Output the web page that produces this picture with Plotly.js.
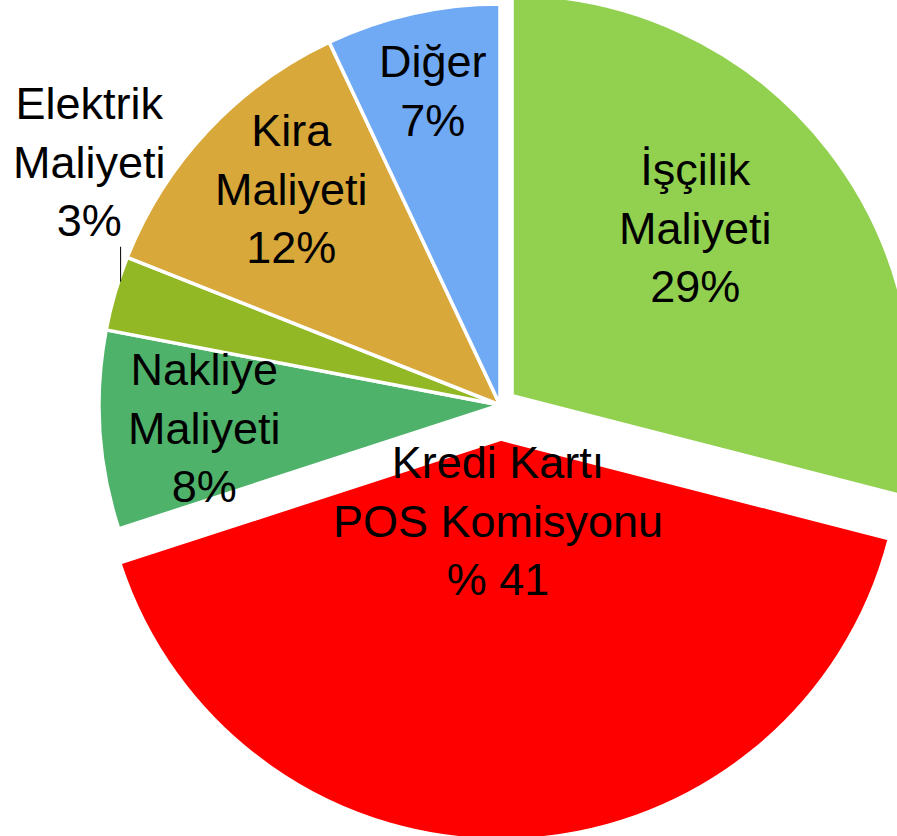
<!DOCTYPE html>
<html><head><meta charset="utf-8">
<script src="https://cdn.plot.ly/plotly-3.0.1.min.js"></script>
<style>
html,body{margin:0;padding:0;overflow:hidden;background:#fff;width:897px;height:836px;}
#chart{position:absolute;left:0;top:-30px;}
</style>
</head><body><div id="chart"></div>
<script>
// ---- data ----
const categories = ["İşçilik Maliyeti", "Kredi Kartı POS Komisyonu", "Nakliye Maliyeti", "Elektrik Maliyeti", "Kira Maliyeti", "Diğer"];
const shares = [29, 41, 8, 3, 12, 7];
const labelTexts = ["İşçilik<br>Maliyeti<br>29%", "Kredi Kartı<br>POS Komisyonu<br>% 41", "Nakliye<br>Maliyeti<br>8%", "Elektrik<br>Maliyeti<br>3%", "Kira<br>Maliyeti<br>12%", "Diğer<br>7%"];

// ---- styling ----
const colors = ["#92D050", "#FF0000", "#4FB26A", "#93B826", "#D8A83B", "#70AAF5"];
const pulls = [0.038, 0.085, 0, 0, 0, 0];
const labelRadius = [0.62, 0.205, 0.74, null, 0.75, 0.80];   // fraction of radius
const labelAngleShift = [-4.7, 3.8, -0.9, 0, 2.8, 0.5];        // degrees
const plotPx = 870, marginLeft = 65;
const leaderPx = 35, leaderAngleShift = 1.8;
const outsideLabelOffsetPx = [-31, 85];

const total = shares.reduce((a, b) => a + b, 0);
let cum = 0; const mids = [];
shares.forEach(v => { mids.push((cum + v / 2) / total * 360); cum += v; });
const maxPull = Math.max(...pulls);
const R = 0.5 / (1 + maxPull);
function polar(angleDeg, rFrac) {
  const a = angleDeg * Math.PI / 180;
  return { x: rFrac * R * Math.sin(a), y: rFrac * R * Math.cos(a) };
}

const annotations = [];
const shapes = [];
const font = { family: "Liberation Sans, Arial, sans-serif", size: 45, color: "#000" };
shares.forEach((v, i) => {
  if (labelRadius[i] === null) return;
  const apex = polar(mids[i], pulls[i]);
  const off = polar(mids[i] + labelAngleShift[i], labelRadius[i]);
  annotations.push({ xref: "paper", yref: "paper", x: 0.5 + apex.x + off.x, y: 0.5 + apex.y + off.y,
    text: labelTexts[i], showarrow: false, xanchor: "center", yanchor: "middle", font: font, align: "center" });
});
// outside label (Elektrik) with leader line
const ei = 3;
const rim = polar(mids[ei] + leaderAngleShift, 0.995);
const x0 = 0.5 + rim.x, y0 = 0.5 + rim.y, y1 = y0 + leaderPx / plotPx;
shapes.push({ type: "line", xref: "paper", yref: "paper", x0: x0, x1: x0, y0: y0, y1: y1, line: { color: "#000", width: 1 } });
annotations.push({ xref: "paper", yref: "paper", x: x0 + outsideLabelOffsetPx[0] / plotPx, y: y1 + outsideLabelOffsetPx[1] / plotPx,
  text: labelTexts[ei], showarrow: false, xanchor: "center", yanchor: "middle", font: font, align: "center" });

const trace = {
  type: "pie", labels: categories, values: shares, sort: false, direction: "clockwise", rotation: 0,
  pull: pulls, textinfo: "none", hoverinfo: "skip",
  marker: { colors: colors, line: { color: "#ffffff", width: 3.5 } }
};
const layout = {
  width: plotPx + marginLeft, height: plotPx,
  margin: { l: marginLeft, r: 0, t: 0, b: 0, pad: 0 },
  showlegend: false, paper_bgcolor: "#fff",
  annotations: annotations, shapes: shapes
};
Plotly.newPlot("chart", [trace], layout, { staticPlot: true, displayModeBar: false });
</script>
</body></html>
